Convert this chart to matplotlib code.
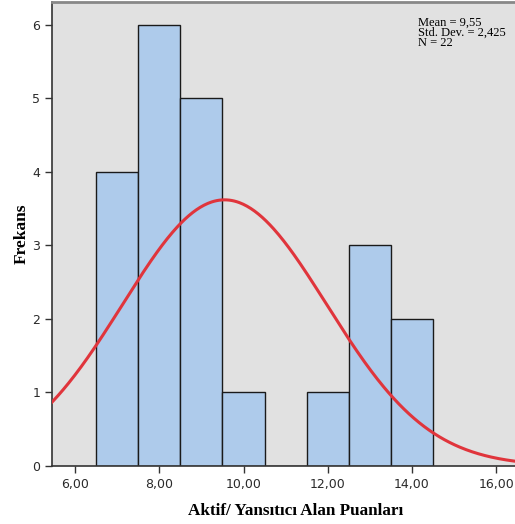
import numpy as np
import matplotlib
matplotlib.use("Agg")
import matplotlib.pyplot as plt

bin_centers = [7, 8, 9, 10, 11, 12, 13, 14]
counts = [4, 6, 5, 1, 0, 1, 3, 2]
mean_val = 9.55
std_val = 2.425
n_val = 22
xtick_vals = [6, 8, 10, 12, 14, 16]
xtick_labels = ["6,00", "8,00", "10,00", "12,00", "14,00", "16,00"]

plt.rcParams['font.family'] = ['Liberation Serif', 'DejaVu Serif']

fig = plt.figure(figsize=(5.15, 5.24), dpi=100)
ax = fig.add_axes([0.101, 0.111, 0.899, 0.885])
ax.set_facecolor('#e1e1e1')

ax.bar(bin_centers, counts, width=1.0, color='#aecbeb', edgecolor='#1a1a1a', linewidth=1.0, zorder=2)

xs = np.linspace(5.0, 17.0, 400)
ys = n_val * 1.0 / (std_val * np.sqrt(2 * np.pi)) * np.exp(-0.5 * ((xs - mean_val) / std_val) ** 2)
ax.plot(xs, ys, color='#e0353c', linewidth=2.2, zorder=3)

ax.set_xlim(5.45, 16.45)
ax.set_ylim(0, 6.31)
ax.set_xticks(xtick_vals)
ax.set_xticklabels(xtick_labels, fontsize=9, family='DejaVu Sans')
ax.set_yticks(range(7))
ax.set_yticklabels([str(i) for i in range(7)], fontsize=9, family='DejaVu Sans')
ax.tick_params(direction='out', length=5, width=1, colors='#333333', labelcolor='#2a2a2a')

for s in ['left', 'bottom']:
    ax.spines[s].set_color('#333333')
    ax.spines[s].set_linewidth(1.2)
ax.spines['top'].set_color('#888888')
ax.spines['top'].set_linewidth(2)
ax.spines['right'].set_visible(False)

ax.set_ylabel('Frekans', fontsize=12.5, fontweight='bold', labelpad=2)
ax.set_xlabel('Aktif/ Yansıtıcı Alan Puanları', fontsize=12.3, fontweight='bold')
ax.xaxis.set_label_coords(0.527, -0.08)

ax.text(0.79, 0.968, 'Mean = 9,55\nStd. Dev. = 2,425\nN = 22', transform=ax.transAxes,
        fontsize=9, va='top', ha='left', linespacing=0.78)

fig.savefig('out.png', dpi=100)
